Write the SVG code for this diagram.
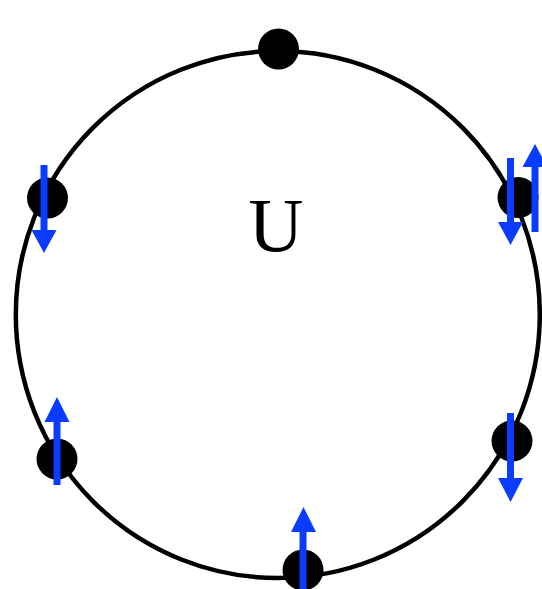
<svg xmlns="http://www.w3.org/2000/svg" width="542" height="589" viewBox="0 0 542 589">
<style>
.ring{fill:none;stroke:#000;stroke-width:4.5}
.dot{fill:#000}
.shaft{stroke:#0a3cff;stroke-width:7;fill:none}
.head{fill:#0a3cff}
.lbl{font-family:"Liberation Serif","Times New Roman",serif;font-size:76px;fill:#000}
</style>
<rect width="542" height="589" fill="#fff"/>
<g id="connectors">
<ellipse class="ring" cx="277.8" cy="314.5" rx="262" ry="263.5"/>
</g>
<text class="lbl" x="276" y="251" text-anchor="middle">U</text>
<g id="n-top"><circle class="dot" cx="278.5" cy="49" r="20.5"/></g>
<g id="n-left-upper">
<circle class="dot" cx="47.5" cy="198" r="20.5"/>
<line class="shaft" x1="44" y1="165" x2="44" y2="232"/>
<polygon class="head" points="31.5,230 56.5,230 44,253"/>
</g>
<g id="n-right-upper">
<circle class="dot" cx="518" cy="197.5" r="20.5"/>
<line class="shaft" x1="510.5" y1="158" x2="510.5" y2="224"/>
<polygon class="head" points="498,222 523,222 510.5,245"/>
<line class="shaft" x1="535" y1="165" x2="535" y2="232"/>
<polygon class="head" points="522.5,167 547.5,167 535,144"/>
</g>
<g id="n-left-lower">
<circle class="dot" cx="57" cy="459" r="20.5"/>
<line class="shaft" x1="57" y1="420" x2="57" y2="485"/>
<polygon class="head" points="44.5,422 69.5,422 57,397"/>
</g>
<g id="n-right-lower">
<circle class="dot" cx="512" cy="441" r="20.5"/>
<line class="shaft" x1="510.5" y1="413" x2="510.5" y2="480"/>
<polygon class="head" points="498,478 523,478 510.5,502"/>
</g>
<g id="n-bottom">
<circle class="dot" cx="303" cy="570" r="20.5"/>
<line class="shaft" x1="303" y1="530" x2="303" y2="589"/>
<polygon class="head" points="291,532 316,532 303.5,507"/>
</g>
</svg>
